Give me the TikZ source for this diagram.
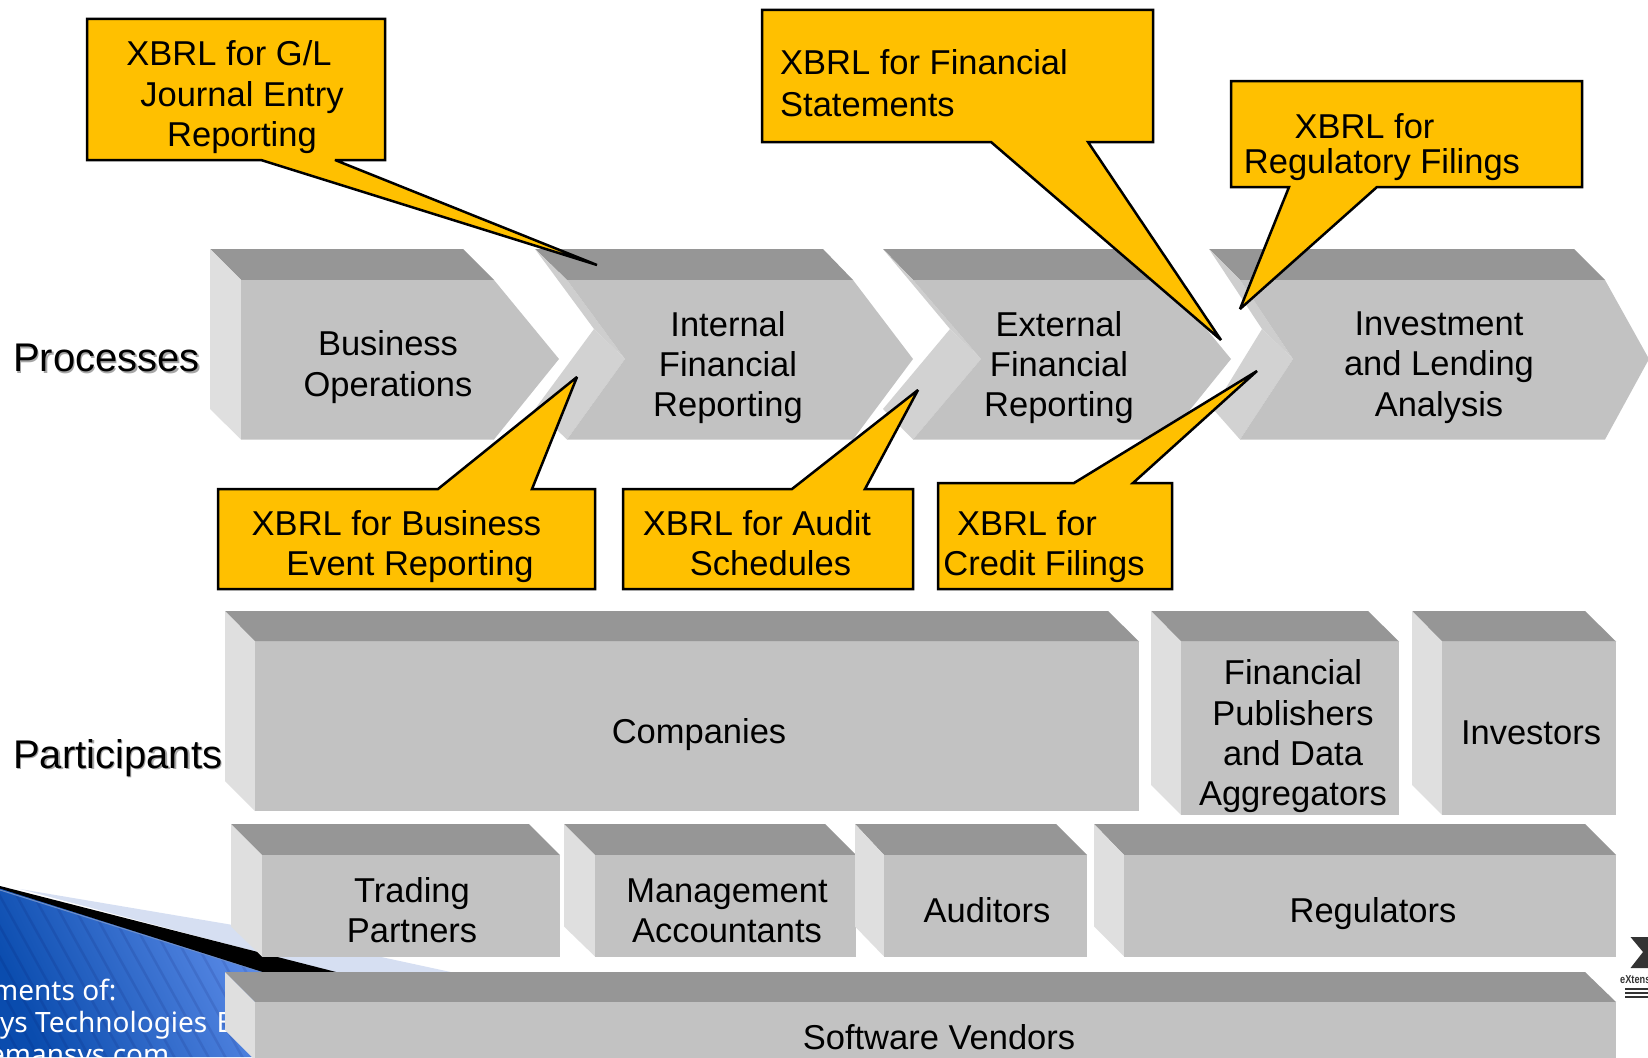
\documentclass[tikz,border=0pt]{standalone}
\usepackage{fontspec}
\setmainfont{Liberation Sans}
\newfontfamily\blufont{Noto Sans}
\definecolor{topf}{HTML}{969696}
\definecolor{frontf}{HTML}{C2C2C2}
\definecolor{sidef}{HTML}{DFDFDF}
\definecolor{sideu}{HTML}{CECECE}
\definecolor{sidel}{HTML}{D2D2D2}
\definecolor{callf}{HTML}{FFC000}
\definecolor{paleb}{HTML}{D6DFF2}
\definecolor{logod}{HTML}{333333}
\definecolor{bluea}{HTML}{0A4CAE}
\definecolor{blueb}{HTML}{5F8EEA}
\definecolor{bluee}{HTML}{6F8FC8}
\tikzset{
  x=1pt,y=-1pt,
  lab/.style={align=center,inner sep=0pt,font=\fontsize{34.5}{40.3}\selectfont},
  cl/.style={anchor=base,inner sep=0pt,font=\fontsize{34.5}{40}\selectfont},
  cll/.style={anchor=base west,inner sep=0pt,font=\fontsize{34.5}{40}\selectfont},
  head/.style={anchor=base west,inner sep=0pt,font=\fontsize{40}{44}\selectfont},
  callout/.style={draw=black,fill=callf,line width=2.5pt,miter limit=3},
  bl/.style={anchor=base west,inner sep=0pt,text=white,font=\blufont\fontsize{28}{32}\selectfont},
}
% #1 back-left, #2 front-left, #3 front-right, #4 back-right, #5 top, #6 front top, #7 bottom
\newcommand{\solidbox}[7]{%
  \fill[topf] (#1,#5)--(#4,#5)--(#3,#6)--(#2,#6)--cycle;
  \fill[sidef] (#1,#5)--(#2,#6)--(#2,#7)--(#1,#7-30)--cycle;
  \fill[frontf] (#2,#6) rectangle (#3,#7);
}
% #1 back-left, #2 front-left, #3 notch, #4 side notch, #5 back-right, #6 front-right, #7 tip, #8 lower back x offset
\newcommand{\chevbox}[8]{%
  \fill[topf] (#1,249)--(#5,249)--(#6,280)--(#2,280)--cycle;
  \fill[sideu] (#1,249)--(#2,280)--(#3,359)--(#4,329)--cycle;
  \fill[sidel] (#4,329)--(#3,359)--(#2,439.5)--(#1+#8,409)--cycle;
  \fill[frontf] (#2,280)--(#6,280)--(#7,359)--(#6,439.5)--(#2,439.5)--(#3,359)--cycle;
}
\begin{document}
\begin{tikzpicture}
\useasboundingbox (0,0) rectangle (1648,1057);
\clip (0,0) rectangle (1648,1057);
% corner decoration
\fill[paleb] (20,889)--(233,925)--(460,974)--(340,974)--cycle;
\begin{scope}
  \clip (0,888)--(272,974)--(272,1057)--(0,1057)--cycle;
  \shade[left color=bluea,right color=blueb,shading angle=115]
     (0,888) rectangle (272,1057);
  \foreach \k in {-12,...,20}
    \draw[black!70!blue,opacity=.10,line width=2.5pt] (\k*17-60,880)--(\k*17+40,1060);
\end{scope}
\draw[bluee,line width=1pt] (0,890)--(268,974);
\fill[black] (0,886)--(340,973)--(266,973)--(0,888.5)--cycle;
\node[bl] (thx1) at (-8,1000) {ments of:};
\node[bl] (thx2) at (0,1032) {ys Technologies\hspace{2pt} B};
\node[bl] (thx3) at (-11,1064) {emansys.com};
% logo
\fill[logod] (1630.5,937)--(1648,937)--(1648,968)--(1630.5,968)--(1643,952)--cycle;
\node[anchor=base west,inner sep=0pt,text=logod,font=\bfseries\fontsize{11.5}{12}\selectfont] (logo) at (1620,983) {\scalebox{.8}[1]{eXtens}};
\foreach \yy in {989,993,997}
  \draw[logod,line width=1.2pt] (1625,\yy)--(1648,\yy);
% process chevrons
\fill[topf] (210,249)--(463,249)--(494,280)--(241,280)--cycle;
\fill[sidef] (210,249)--(241,280)--(241,439.5)--(210,409)--cycle;
\fill[frontf] (241,280)--(494,280)--(559,359)--(494,439.5)--(241,439.5)--cycle;
\chevbox{535}{567}{625}{594}{823}{853}{913}{0}
\chevbox{883}{913}{981}{950}{1135}{1166}{1231}{0}
\chevbox{1209}{1240}{1293}{1262}{1574}{1605}{1649}{4}
% participants
\solidbox{225}{255}{1139}{1108}{611}{641.5}{811}
\solidbox{1151}{1181}{1399}{1368}{611}{641.5}{815}
\solidbox{1412}{1442}{1616}{1585}{611}{641.5}{815}
\solidbox{231}{262}{560}{529}{824}{855}{956.5}
\solidbox{564}{595}{856}{825}{824}{855}{956.5}
\solidbox{855}{884}{1087}{1056}{824}{855}{956.5}
\solidbox{1094}{1124}{1616}{1585}{824}{855}{956.5}
\solidbox{225}{255}{1616}{1585}{972}{1002}{1060}
% box labels
\node[lab] (n1) at (388,367) {Business\\Operations};
\node[lab] (n2) at (728,367.5) {Internal\\Financial\\Reporting};
\node[lab] (n3) at (1059,367.5) {External\\Financial\\Reporting};
\node[lab] (n4) at (1439,367.5) {Investment\\and Lending\\Analysis};
\node[lab] (p1) at (699,735) {Companies};
\node[lab] (p2) at (1293,736.5) {Financial\\Publishers\\and Data\\Aggregators};
\node[lab] (p3) at (1531,733) {Investors};
\node[lab] (p4) at (412,910.5) {Trading\\Partners};
\node[lab] (p5) at (727,911) {Management\\Accountants};
\node[lab] (p6) at (987,910) {Auditors};
\node[lab] (p7) at (1373,914) {Regulators};
\node[lab] (p8) at (939,1037) {Software Vendors};
% row headings
\node[head,text=gray!70] (hs1) at (14.5,373) {Processes};
\node[head] (h1) at (13,371.5) {Processes};
\node[head,text=gray!70] (hs2) at (14.5,769.5) {Participants};
\node[head] (h2) at (13,768) {Participants};
% callouts
\draw[callout] (87,19)--(385,19)--(385,160)--(335,160)--(597,265)--(261,160)--(87,160)--cycle;
\node[cl] (a1) at (229,66) {XBRL for G/L};
\node[cl] (a2) at (242,106) {Journal Entry};
\node[cl] (a3) at (242,146) {Reporting};
\draw[callout] (762,10)--(1153,10)--(1153,142)--(1088,142)--(1221,340)--(991,142)--(762,142)--cycle;
\node[cll] (b1) at (780,74.5) {XBRL for Financial};
\node[cll] (b2) at (780,116) {Statements};
\draw[callout] (1231,81)--(1582,81)--(1582,187)--(1377,187)--(1240,309)--(1289,187)--(1231,187)--cycle;
\node[cl] (c1) at (1364.5,138) {XBRL for};
\node[cl] (c2) at (1382,173) {Regulatory Filings};
\draw[callout] (218,489)--(438,489)--(577,377)--(532,489)--(595,489)--(595,589)--(218,589)--cycle;
\node[cl] (d1) at (396.5,535) {XBRL for Business};
\node[cl] (d2) at (410,575) {Event Reporting};
\draw[callout] (623,489)--(792,489)--(918,390)--(865,489)--(913,489)--(913,589)--(623,589)--cycle;
\node[cl] (e1) at (757,535) {XBRL for Audit};
\node[cl] (e2) at (770.5,575) {Schedules};
\draw[callout] (938,483)--(1074,483)--(1257,371)--(1133,483)--(1172,483)--(1172,589)--(938,589)--cycle;
\node[cl] (f1) at (1027,535) {XBRL for};
\node[cl] (f2) at (1044,575) {Credit Filings};
\end{tikzpicture}
\end{document}
